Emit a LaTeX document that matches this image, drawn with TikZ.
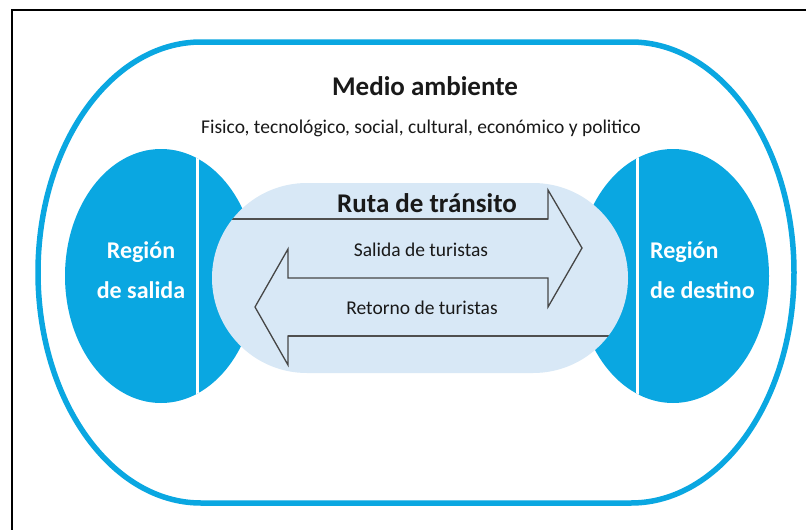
\documentclass[tikz,border=0pt]{standalone}
\usepackage{fontspec}
\setmainfont{Carlito}
\definecolor{cyanblue}{RGB}{10,167,225}
\definecolor{routefill}{RGB}{216,232,246}
\definecolor{arrowline}{RGB}{70,70,70}
\definecolor{txt}{RGB}{25,25,25}
\begin{document}
\begin{tikzpicture}[x=1pt,y=-1pt,
  outerring/.style={draw=cyanblue,line width=5.5pt},
  regionfill/.style={fill=cyanblue},
  divider/.style={draw=white,line width=3pt},
  routeshape/.style={fill=routefill},
  arrowoutline/.style={draw=arrowline,line width=1.3pt,line join=miter},
  arrowbar/.style={draw=arrowline!85,line width=2.4pt},
  titletext/.style={inner sep=0pt,anchor=base,text=txt,font=\fontsize{27}{30}\selectfont\bfseries},
  subtext/.style={inner sep=0pt,anchor=base,text=txt,font=\fontsize{19.5}{23}\selectfont},
  regiontext/.style={inner sep=0pt,text=white,font=\fontsize{24}{40}\selectfont\bfseries}
]
\useasboundingbox (0,0) rectangle (806,530);
\fill[white] (0,0) rectangle (806,530);
% screenshot frame
\draw[black,line width=1.6pt] (12,530) -- (12,10) -- (806,10);
% outer environment ring
\draw[outerring] (201,42) -- (631,42)
  arc[start angle=90,end angle=-90,x radius=163pt,y radius=230.5pt]
  -- (201,503)
  arc[start angle=270,end angle=90,x radius=163pt,y radius=230.5pt] -- cycle;
% region ellipses
\fill[regionfill] (161,276) ellipse[x radius=96pt,y radius=127pt];
\fill[regionfill] (673,276) ellipse[x radius=96pt,y radius=127pt];
\begin{scope}
  \clip (161,276) ellipse[x radius=96pt,y radius=127pt];
  \draw[divider] (197,140) -- (197,410);
\end{scope}
\begin{scope}
  \clip (673,276) ellipse[x radius=96pt,y radius=127pt];
  \draw[divider] (637,140) -- (637,410);
\end{scope}
% transit route
\fill[routeshape,rounded corners=95pt] (212,183) rectangle (628,373);
\begin{scope}
  \clip[rounded corners=95pt] (212,183) rectangle (628,373);
  \draw[arrowbar] (200,219) -- (548,219);
  \draw[arrowbar] (288,336) -- (640,336);
  \draw[arrowoutline] (200,219) -- (548,219) -- (548,190) -- (582,248) -- (548,307)
    -- (548,278) -- (288,278) -- (288,249) -- (255,307) -- (288,365) -- (288,336) -- (640,336);
\end{scope}
% texts
\node[titletext] (medio) at (425,95) {Medio ambiente};
\node[subtext] (factores) at (421,133) {Fisico, tecnológico, social, cultural, económico y politico};
\node[titletext] (ruta) at (427,212) {Ruta de tránsito};
\node[subtext] (salida) at (421,256) {Salida de turistas};
\node[subtext] (retorno) at (422,314) {Retorno de turistas};
\node[regiontext,align=center,anchor=north] (rsalida) at (141,241) {Región\\de salida};
\node[regiontext,align=left,anchor=north west] (rdestino) at (650,241) {Región\\de destino};
\end{tikzpicture}
\end{document}
